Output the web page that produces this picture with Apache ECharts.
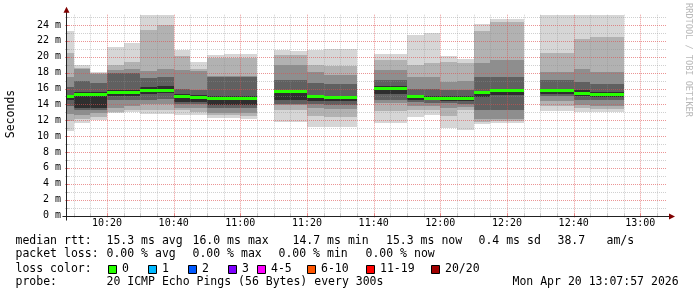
<!DOCTYPE html>
<html><head><meta charset="utf-8">
<script src="https://cdn.jsdelivr.net/npm/echarts@6/dist/echarts.min.js"></script>
<style>html,body{margin:0;padding:0;background:#fff}#c{width:697px;height:297px}</style>
</head><body><div id="c"></div>
<script>
// ---- data ----
const axisStart = '10:08';
const axisEnd = '13:08';
const binMinutes = 5;
const binStarts = ['10:05','10:10','10:15','10:20','10:25','10:30','10:35','10:40','10:45','10:50','10:55','11:00',
  '11:10','11:15','11:20','11:25','11:30','11:40','11:45','11:50','11:55','12:00','12:05','12:10','12:15','12:20',
  '12:30','12:35','12:40','12:45','12:50'];
const medians = [15.0,15.25,15.3,15.5,15.5,15.8,15.8,15.05,14.9,14.7,14.7,14.7,
  15.6,15.6,15.0,14.9,14.9,16.0,16.0,15.0,14.8,14.8,14.8,15.5,15.7,15.7,
  15.7,15.7,15.4,15.2,15.2];
// sorted ping samples (ms) per bin, lowest to highest
const pings = [
  [10.6,11.9,12.8,13.8,14.6,15.1,16.2,17.5,20.5,23.3],
  [11.7,12.2,12.7,13.3,13.6,15.6,16.9,18.4,18.6,18.9],
  [12.0,12.4,12.9,13.3,13.5,15.5,16.7,17.8,17.95,18.1],
  [12.9,13.1,13.6,14.5,15.0,15.8,18.0,18.3,19.0,21.2],
  [13.1,13.3,13.8,14.6,15.1,15.8,18.0,18.5,19.3,21.7],
  [12.8,13.3,14.1,14.6,15.3,16.2,17.3,18.2,23.4,25.3],
  [12.8,13.3,14.1,14.7,15.4,16.3,17.5,18.4,24.0,25.3],
  [12.7,13.3,13.6,14.0,14.3,15.3,16.0,18.3,20.1,20.9],
  [12.6,13.1,13.6,14.0,14.3,15.2,15.8,18.2,18.5,19.4],
  [12.3,12.6,12.9,13.6,13.9,15.0,17.5,17.6,19.8,20.2],
  [12.3,12.6,12.9,13.6,13.9,15.0,17.5,17.6,19.9,20.4],
  [12.2,12.5,12.9,13.5,13.9,15.0,17.4,17.6,19.8,20.3],
  [11.8,13.3,13.9,14.0,14.5,15.8,17.1,19.0,20.2,20.8],
  [11.8,13.3,13.9,14.0,14.5,15.8,17.1,19.0,20.2,20.7],
  [11.2,12.5,13.5,14.0,14.4,15.2,16.7,18.1,19.0,20.9],
  [11.1,12.4,13.4,13.9,14.4,15.0,16.6,17.7,18.8,21.0],
  [11.1,12.4,13.4,13.9,14.4,15.0,16.6,17.7,18.8,21.0],
  [11.7,13.2,14.2,14.6,15.3,16.3,17.1,18.3,19.6,20.4],
  [11.7,13.2,14.2,14.6,15.3,16.3,17.1,18.3,19.6,20.3],
  [12.4,13.3,13.8,14.3,14.6,15.2,16.0,17.5,19.0,22.7],
  [12.6,13.3,13.8,14.2,14.5,15.1,15.9,17.4,19.2,23.0],
  [11.0,12.5,13.5,14.2,14.4,15.1,15.8,16.8,19.4,20.1],
  [10.8,13.3,13.7,14.1,14.4,15.0,15.8,16.9,19.2,19.7],
  [11.5,11.8,12.1,13.3,14.9,15.6,17.5,19.2,23.2,24.1],
  [11.6,11.9,12.2,13.3,15.2,15.9,17.5,19.6,24.4,24.8],
  [11.6,11.9,12.2,13.3,15.2,15.9,17.5,19.6,24.4,24.8],
  [13.2,13.8,14.4,15.0,15.3,16.0,17.1,18.1,20.5,25.3],
  [13.2,13.8,14.4,15.0,15.3,16.0,17.1,18.1,20.5,25.3],
  [13.1,13.5,13.9,14.5,15.0,15.8,16.8,18.5,22.2,25.3],
  [13.1,13.4,13.8,14.5,14.9,15.5,16.6,18.1,22.5,25.3],
  [13.1,13.4,13.8,14.5,14.9,15.5,16.6,18.1,22.5,25.3]
];
const yMax = 25.3;
const xTickLabels = ['10:20','10:40','11:00','11:20','11:40','12:00','12:20','12:40','13:00'];
const yTickValues = [0,2,4,6,8,10,12,14,16,18,20,22,24];
const yMinorValues = [1,3,5,7,9,11,13,15,17,19,21,23,25];
const xMinorLabels = ['10:10','10:15','10:25','10:30','10:35','10:45','10:50','10:55','11:05','11:10','11:15',
  '11:25','11:30','11:35','11:45','11:50','11:55','12:05','12:10','12:15','12:25','12:30','12:35','12:45',
  '12:50','12:55','13:05'];
const smokeShades = ['#d6d6d6','#b2b2b2','#8e8e8e','#606060','#2e2e2e'];

const statRtt = ['median rtt:','15.3 ms avg','16.0 ms max','14.7 ms min','15.3 ms now','0.4 ms sd','38.7','am/s'];
const statLoss = ['packet loss:','0.00 % avg','0.00 % max','0.00 % min','0.00 % now'];
const lossLabels = ['0','1','2','3','4-5','6-10','11-19','20/20'];
const lossColors = ['#26ff00','#00b8ff','#0059ff','#7e00ff','#ff00ff','#ff5500','#ff0000','#a00000'];
const probeText = ['probe:','20 ICMP Echo Pings (56 Bytes) every 300s','Mon Apr 20 13:07:57 2026'];

// ---- helpers ----
function toMin(s){const p=s.split(':');return (+p[0])*60+(+p[1]);}
function fmt(m){const h=Math.floor(m/60),mm=m%60;return h+':'+(mm<10?'0':'')+mm;}
const FONT = 'DejaVu Sans Mono';

const smokeData = binStarts.map((t,i)=>[toMin(t), toMin(t)+binMinutes].concat(pings[i]));
const medData = binStarts.map((t,i)=>[toMin(t), toMin(t)+binMinutes, medians[i]]);

function clipR(r, cs){
  return echarts.graphic.clipRectByRect(r,{x:cs.x,y:cs.y,width:cs.width,height:cs.height});
}

const chart = echarts.init(document.getElementById('c'), null, {renderer:'canvas'});
const option = {
  animation:false,
  backgroundColor:'#ffffff',
  grid:{left:67, top:14.7, width:600, height:200.8, containLabel:false},
  xAxis:{type:'value', min:toMin(axisStart), max:toMin(axisEnd),
    axisLine:{show:false}, axisTick:{show:false}, splitLine:{show:false},
    axisLabel:{customValues:xTickLabels.map(toMin), formatter:v=>fmt(v), fontFamily:FONT, fontSize:10, color:'#000', margin:3}},
  yAxis:{type:'value', min:0, max:yMax,
    axisLine:{show:false}, axisTick:{show:false}, splitLine:{show:false},
    axisLabel:{customValues:yTickValues, formatter:v=>v+' m', fontFamily:FONT, fontSize:10, color:'#000', margin:6}},
  series:[
    {type:'custom', z:2, silent:true, data:smokeData,
      encode:{x:[0,1], y:[2,11]},
      renderItem:function(params, api){
        const cs = params.coordSys;
        const s = api.value(0), e = api.value(1);
        const children = [];
        for(let k=0;k<5;k++){
          const lo = api.value(2+k), hi = api.value(11-k);
          const p1 = api.coord([s,hi]), p2 = api.coord([e,lo]);
          const x1 = Math.round(p1[0]), x2 = Math.round(p2[0]);
          const y1 = Math.round(p1[1]), y2 = Math.round(p2[1]);
          const r = clipR({x:x1,y:y1,width:x2-x1,height:y2-y1}, cs);
          if(r) children.push({type:'rect', shape:r, style:{fill:smokeShades[k]}});
        }
        return {type:'group', children};
      }},
    {type:'custom', z:3, silent:true, data:[[0]],
      renderItem:function(params, api){
        const cs = params.coordSys;
        const ch = [];
        const xl = cs.x, xr = cs.x+cs.width, yt = cs.y, yb = cs.y+cs.height;
        function vline(m, col){
          const x = Math.round(api.coord([m,0])[0])+0.5;
          ch.push({type:'line', shape:{x1:x,y1:yt,x2:x,y2:yb}, style:{stroke:col, lineWidth:1, lineDash:[1,1]}});
          ch.push({type:'line', shape:{x1:x,y1:yb-2,x2:x,y2:yb+2}, style:{stroke:col, lineWidth:1}});
        }
        function hline(v, col){
          const y = Math.round(api.coord([toMin(axisStart),v])[1])+0.5;
          ch.push({type:'line', shape:{x1:xl,y1:y,x2:xr,y2:y}, style:{stroke:col, lineWidth:1, lineDash:[1,1]}});
          ch.push({type:'line', shape:{x1:xl-2,y1:y,x2:xl+2,y2:y}, style:{stroke:col, lineWidth:1}});
        }
        const gcol = 'rgba(143,143,143,0.42)', mcol = 'rgba(222,79,79,0.6)';
        xMinorLabels.forEach(t=>vline(toMin(t), gcol));
        yMinorValues.forEach(v=>hline(v, gcol));
        xTickLabels.forEach(t=>vline(toMin(t), mcol));
        yTickValues.slice(1).forEach(v=>hline(v, mcol));
        return {type:'group', children:ch};
      }},
    {type:'custom', z:4, silent:true, data:medData,
      encode:{x:[0,1], y:2},
      renderItem:function(params, api){
        const cs = params.coordSys;
        const p1 = api.coord([api.value(0), api.value(2)]), p2 = api.coord([api.value(1), api.value(2)]);
        const x1 = Math.round(p1[0]), x2 = Math.round(p2[0]);
        const y = Math.round(p1[1]-1.5);
        const r = clipR({x:x1,y:y,width:x2-x1,height:3}, cs);
        return r ? {type:'rect', shape:r, style:{fill:lossColors[0]}} : null;
      }},
    {type:'custom', z:5, silent:true, data:[[0]],
      renderItem:function(params, api){
        const cs = params.coordSys;
        const o = api.coord([toMin(axisStart),0]);
        const x0 = Math.round(o[0])-0.5, y0 = Math.round(o[1])+0.5;
        const xr = cs.x+cs.width, yt = cs.y;
        const axisCol = '#212121', arrowCol = '#800000';
        return {type:'group', children:[
          {type:'line', shape:{x1:x0-4,y1:y0,x2:xr+4,y2:y0}, style:{stroke:axisCol,lineWidth:1}},
          {type:'line', shape:{x1:x0,y1:y0+4,x2:x0,y2:yt-4}, style:{stroke:axisCol,lineWidth:1}},
          {type:'polygon', shape:{points:[[xr+2,y0-3],[xr+8,y0],[xr+2,y0+3]]}, style:{fill:arrowCol}},
          {type:'polygon', shape:{points:[[x0-3,yt-2],[x0,yt-8],[x0+3,yt-2]]}, style:{fill:arrowCol}}
        ]};
      }}
  ],
  graphic:[]
};
chart.setOption(option);

// ---- texts ----
const g = [];
function txt(x, y, s, extra){
  g.push(Object.assign({type:'text', x:x, y:y, silent:true,
    style:{text:s, font:'11.5px "DejaVu Sans Mono"', fill:'#000', textVerticalAlign:'middle'}}, extra||{}));
}
g.push({type:'text', x:11, y:114, rotation:Math.PI/2, silent:true,
  style:{text:'Seconds', font:'11.5px "DejaVu Sans Mono"', fill:'#000', textAlign:'center', textVerticalAlign:'middle'}});
g.push({type:'text', x:688.5, y:60, rotation:-Math.PI/2, silent:true,
  style:{text:'RRDTOOL / TOBI OETIKER', font:'8.6px "DejaVu Sans Mono"', fill:'#b8b8b8', textAlign:'center', textVerticalAlign:'middle'}});
const rttX = [15.5,106.5,192.5,292.5,386,478.5,557.5,606.5];
statRtt.forEach((s,i)=>txt(rttX[i],241,s));
const lossX = [15.5,106.5,192.5,278.5,365.5];
statLoss.forEach((s,i)=>txt(lossX[i],254.5,s));
txt(15.5,269,'loss color:');
const sqX = [108,148,188,228,257,307,366,431];
lossLabels.forEach((s,i)=>{
  g.push({type:'rect', silent:true, shape:{x:sqX[i]+0.5,y:265.5,width:8,height:8}, style:{fill:lossColors[i], stroke:'#000', lineWidth:1}});
  txt(sqX[i]+14,269,s);
});
txt(15.5,282.5,probeText[0]);
txt(106.5,282.5,probeText[1]);
txt(512.5,282.5,probeText[2]);
chart.setOption({graphic:g});
</script></body></html>
